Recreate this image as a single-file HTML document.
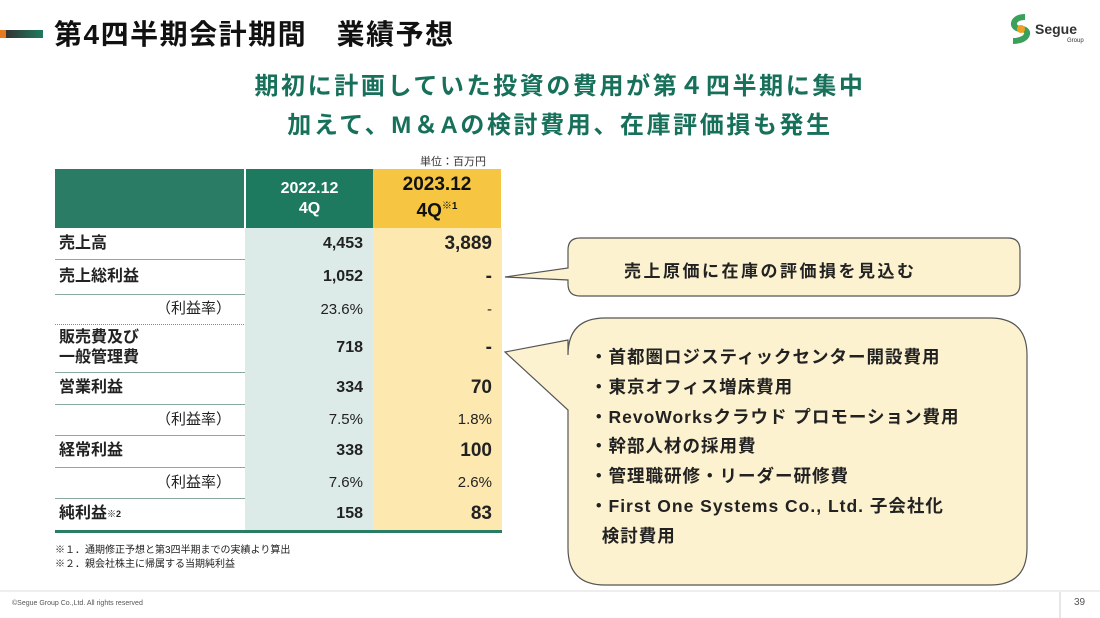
<!DOCTYPE html>
<html><head><meta charset="utf-8"><style>
body{margin:0;width:1100px;height:618px;background:#fff;position:relative;overflow:hidden;font-family:"Liberation Sans","Noto Sans CJK JP",sans-serif;color:#222}
.abs{position:absolute}
.t{font-weight:bold}
td{padding:0;font-weight:bold}
</style></head><body>
<div class="abs" style="left:0;top:30px;width:6px;height:8px;background:#e87a1e"></div>
<div class="abs" style="left:6px;top:30px;width:37px;height:8px;background:linear-gradient(90deg,#333,#1e7b60)"></div>
<div class="abs t" style="left:54px;top:13px;font-size:28px;letter-spacing:1.5px;color:#111">第4四半期会計期間　業績予想</div>
<div class="abs" style="left:1005px;top:13px;width:90px;height:32px">
<svg width="90" height="32"><path d="M20 4 C6 4 6 16 16 16 C26 16 24 28 8 28" stroke="#3aa05a" stroke-width="6" fill="none"/><circle cx="16" cy="16" r="4" fill="#f0a020"/><text x="30" y="21" font-family="Liberation Sans" font-weight="bold" font-size="14" fill="#333">Segue</text><text x="62" y="29" font-family="Liberation Sans" font-size="6" fill="#333">Group</text></svg></div>
<div class="abs t" style="left:0;width:1100px;text-align:center;top:66px;font-size:24px;letter-spacing:2.6px;color:#17705a;padding-left:20px;box-sizing:border-box">期初に計画していた投資の費用が第４四半期に集中</div>
<div class="abs t" style="left:0;width:1100px;text-align:center;top:105px;font-size:24px;letter-spacing:2.6px;color:#17705a;padding-left:20px;box-sizing:border-box">加えて、M＆Aの検討費用、在庫評価損も発生</div>
<div class="abs" style="left:420px;top:153px;font-size:11px;color:#333">単位：百万円</div>

<table class="abs" style="left:55px;top:169px;border-collapse:collapse;font-size:16px">
<tr style="height:59px"><td style="width:189px;background:#2a7d64;border-right:2px solid #fff"></td><td style="width:127px;background:#1e7a5f;color:#fff;text-align:center;line-height:20px">2022.12<br>4Q</td><td style="width:128px;background:#f6c642;color:#111;text-align:center;font-size:19px;line-height:22px">2023.12<br>4Q<sup style="font-size:10px">※1</sup></td></tr>
</table>
<div id="rows"></div>
<div class="abs" style="left:55px;top:541px;font-size:10px">※１．通期修正予想と第3四半期までの実績より算出</div>
<div class="abs" style="left:55px;top:555px;font-size:10px">※２．親会社株主に帰属する当期純利益</div>

<svg class="abs" style="left:0;top:0" width="1100" height="618">
<path d="M580 238 H1008 Q1020 238 1020 250 V284 Q1020 296 1008 296 H580 Q568 296 568 284 V280 L505 277 L568 268 V250 Q568 238 580 238Z" fill="#fdf2d0" stroke="#555" stroke-width="1.2"/>
<path d="M605 318 H990 Q1027 318 1027 355 V548 Q1027 585 990 585 H605 Q568 585 568 548 V410 L505 352 L568 340 V355 Q568 318 605 318Z" fill="#fdf2d0" stroke="#555" stroke-width="1.2"/>
<line x1="0" y1="591" x2="1100" y2="591" stroke="#ddd"/>
<line x1="1060" y1="592" x2="1060" y2="618" stroke="#ccc"/>
</svg>
<div class="abs t" style="left:624px;top:257px;font-size:17px;letter-spacing:2.5px">売上原価に在庫の評価損を見込む</div>
<div class="abs t" style="left:590px;top:343px;font-size:17.5px;letter-spacing:1px;line-height:29.8px">・首都圏ロジスティックセンター開設費用<br>・東京オフィス増床費用<br>・RevoWorksクラウド プロモーション費用<br>・幹部人材の採用費<br>・管理職研修・リーダー研修費<br>・First One Systems Co., Ltd. 子会社化<br>&nbsp;&nbsp;検討費用</div>
<div class="abs" style="left:12px;top:600px;font-size:7px;color:#555">©Segue Group Co.,Ltd. All rights reserved</div>
<div class="abs" style="left:1074px;top:597px;font-size:10px;color:#555">39</div>

<script>
const labels=["売上高","売上総利益","（利益率）","販売費及び<br>一般管理費","営業利益","（利益率）","経常利益","（利益率）","純利益<sup style='font-size:9px'>※2</sup>"];
const v2022=["4,453","1,052","23.6%","718","334","7.5%","338","7.6%","158"];
const v2023=["3,889","-","-","-","70","1.8%","100","2.6%","83"];
const heights=[31,35,30,48,32,31,32,31,32];
const rows=document.getElementById('rows');
let y=228;
labels.forEach((l,i)=>{
  const sub=l.startsWith('（');
  const r=document.createElement('div');
  
  
  r.className='abs';
  r.style.cssText=`left:55px;top:${y}px;width:447px;height:${heights[i]}px;border-bottom:${i==2?'1px dotted #888':(i==8?'3px solid #2a7d64':'1.5px solid #8aa8a0')};display:flex;font-size:${sub?15:16}px;font-weight:${sub?'normal':'bold'}`;
  r.innerHTML=`<div style="width:190px;display:flex;align-items:center;justify-content:${sub?'flex-end':'flex-start'};padding:0 ${sub?'14px':'0'} 0 ${sub?0:4}px;box-sizing:border-box;line-height:20px">${l}</div><div style="width:128px;background:#dcebe8;display:flex;align-items:center;justify-content:flex-end;padding-right:10px;box-sizing:border-box">${v2022[i]}</div><div style="width:129px;background:#fde8b0;display:flex;align-items:center;justify-content:flex-end;padding-right:10px;box-sizing:border-box;font-size:${sub?15:19}px">${v2023[i]}</div>`;
  rows.appendChild(r);
  y+=heights[i];
});
</script>
</body></html>
